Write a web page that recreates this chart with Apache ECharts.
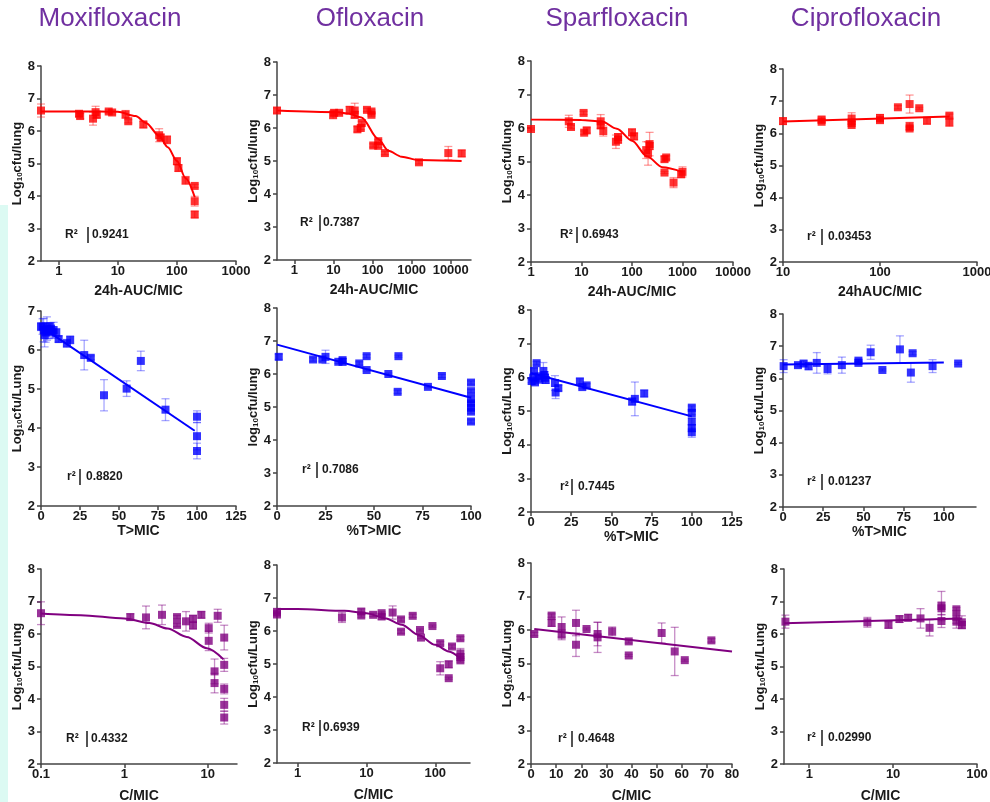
<!DOCTYPE html>
<html>
<head>
<meta charset="utf-8">
<script src="https://cdn.jsdelivr.net/npm/echarts@6/dist/echarts.min.js"></script>
<style>
  html, body { margin: 0; padding: 0; background: #fff; }
  #chart { width: 990px; height: 802px; }
</style>
</head>
<body>
<div id="chart"></div>
<script>
// column titles and axis names
const drugs = ["Moxifloxacin", "Ofloxacin", "Sparfloxacin", "Ciprofloxacin"];
const xNames = [
  "24h-AUC/MIC", "24h-AUC/MIC", "24h-AUC/MIC", "24hAUC/MIC",
  "T>MIC", "%T>MIC", "%T>MIC", "%T>MIC",
  "C/MIC", "C/MIC", "C/MIC", "C/MIC"
];
const yNames = [
  "Log{s|10}cfu/lung", "Log{s|10}cfu/lung", "Log{s|10}cfu/lung", "Log{s|10}cfu/lung",
  "Log{s|10}cfu/Lung", "log{s|10}cfu/lung", "Log{s|10}cfu/Lung", "Log{s|10}cfu/Lung",
  "Log{s|10}cfu/Lung", "Log{s|10}cfu/Lung", "Log{s|10}cfu/Lung", "Log{s|10}cfu/Lung"
];
const statLabels = ["R²", "R²", "R²", "r²", "r²", "r²", "r²", "r²", "R²", "R²", "r²", "r²"];
const statValues = ["0.9241", "0.7387", "0.6943", "0.03453", "0.8820", "0.7086", "0.7445", "0.01237", "0.4332", "0.6939", "0.4648", "0.02990"];

// tick labels
const ticksMoxiAuc = [1, 10, 100, 1000];
const ticksOfloAuc = [1, 10, 100, 1000, 10000];
const ticksSparAuc = [1, 10, 100, 1000, 10000];
const ticksCiproAuc = [10, 100, 1000];
const ticksT125 = [0, 25, 50, 75, 100, 125];
const ticksT100 = [0, 25, 50, 75, 100];
const ticksMoxiC = [0.1, 1, 10];
const ticksOfloC = [1, 10, 100];
const ticksSparC = [0, 10, 20, 30, 40, 50, 60, 70, 80];
const ticksCiproC = [1, 10, 100];

// points: [x, log10 cfu, sem]
const moxiAuc = [[0.5, 6.63, 0.2], [2.2, 6.53, 0.08], [2.3, 6.46, 0.08], [3.8, 6.38, 0.2], [4.2, 6.58, 0.18], [4.4, 6.5, 0.1],
  [7.0, 6.6, 0.05], [8.0, 6.57, 0.05], [13.5, 6.51, 0.12], [15, 6.3, 0.05], [27, 6.2, 0.1], [50, 5.87, 0.2], [53, 5.8, 0.1],
  [68, 5.73, 0.12], [100, 5.07, 0.1], [106, 4.86, 0.1], [140, 4.48, 0.12], [200, 4.31, 0.05], [200, 3.84, 0.15], [200, 3.43, 0.1]];
const moxiAucFit = [[0.5, 6.6], [5, 6.6], [10, 6.59], [20, 6.46], [30, 6.25], [50, 5.85], [70, 5.5], [100, 5.08], [140, 4.55], [200, 3.97]];

const ofloAuc = [[0.36, 6.53, 0.08], [9.8, 6.4, 0.12], [10.4, 6.46, 0.08], [14, 6.46, 0.05], [26, 6.55, 0.1], [35, 6.53, 0.22],
  [35, 6.4, 0.1], [41, 5.96, 0.08], [50, 6.0, 0.05], [53, 6.15, 0.05], [72, 6.55, 0.05], [94, 6.5, 0.05], [94, 6.4, 0.05],
  [104, 5.47, 0.05], [140, 5.6, 0.05], [140, 5.46, 0.05], [207, 5.24, 0.05], [1540, 4.96, 0.05], [8670, 5.24, 0.2], [19100, 5.23, 0.1]];
const ofloAucFit = [[0.36, 6.53], [13, 6.48], [25, 6.43], [52, 6.32], [140, 5.67], [253, 5.31], [555, 5.13], [1480, 5.03], [19000, 5.0]];

const sparAuc = [[1.0, 5.97, 0.03], [5.6, 6.2, 0.18], [6.2, 6.03, 0.05], [11, 6.45, 0.05], [11.3, 5.86, 0.05], [12.7, 5.93, 0.08],
  [24, 6.2, 0.2], [24, 6.08, 0.1], [27, 5.91, 0.15], [48, 5.59, 0.2], [53, 5.73, 0.1], [53, 5.65, 0.1], [100, 5.87, 0.1],
  [110, 5.75, 0.1], [191, 5.34, 0.25], [208, 5.24, 0.35], [223, 5.52, 0.35], [223, 5.46, 0.1], [440, 5.07, 0.08],
  [475, 5.12, 0.05], [440, 4.67, 0.03], [665, 4.37, 0.15], [940, 4.62, 0.1], [1000, 4.69, 0.15]];
const sparAucFit = [[1, 6.25], [10, 6.24], [25, 6.2], [50, 5.98], [100, 5.62], [200, 5.15], [400, 4.83], [1000, 4.69]];

const ciproAuc = [[10, 6.38, 0.1], [25, 6.43, 0.08], [25, 6.36, 0.05], [51, 6.46, 0.18], [51, 6.33, 0.05], [51, 6.26, 0.05],
  [100, 6.48, 0.1], [100, 6.41, 0.08], [153, 6.81, 0.05], [202, 6.91, 0.28], [202, 6.22, 0.12], [202, 6.15, 0.05],
  [254, 6.78, 0.03], [305, 6.39, 0.1], [519, 6.55, 0.05], [519, 6.34, 0.12]];
const ciproAucFit = [[10, 6.37], [519, 6.52]];

const moxiT = [[0, 6.6, 0.1], [1, 6.6, 0.2], [1.7, 6.51, 0.3], [2.3, 6.38, 0.3], [3, 6.45, 0.25], [3.8, 6.55, 0.3], [4.9, 6.49, 0.2],
  [5.5, 6.6, 0.1], [6.4, 6.55, 0.15], [7.3, 6.45, 0.15], [8.1, 6.51, 0.2], [9.8, 6.45, 0.1], [11.3, 6.28, 0.08],
  [16.6, 6.17, 0.1], [18.7, 6.26, 0.1], [27.7, 5.87, 0.38], [31.9, 5.8, 0.05], [40.4, 4.84, 0.4], [54.9, 5.01, 0.2],
  [64, 5.72, 0.25], [79.8, 4.47, 0.28], [100, 4.29, 0.15], [100, 3.79, 0.35], [100, 3.41, 0.2]];
const moxiTFit = [[0, 6.6], [98.5, 3.93]];

const ofloT = [[0.9, 6.52, 0.08], [18.6, 6.44, 0.05], [23.4, 6.44, 0.05], [25, 6.52, 0.2], [31.6, 6.37, 0.05], [33.8, 6.42, 0.05],
  [33.8, 6.37, 0.1], [42.4, 6.32, 0.05], [46.2, 6.54, 0.05], [46.2, 6.12, 0.03], [57.4, 6.0, 0.03], [62.6, 6.54, 0.03],
  [62.2, 5.46, 0.05], [77.8, 5.61, 0.03], [85, 5.94, 0.05], [100, 5.74, 0.05], [100, 5.48, 0.05], [100, 5.24, 0.1],
  [100, 5.11, 0.05], [100, 4.98, 0.1], [100, 4.86, 0.05], [100, 4.56, 0.05]];
const ofloTFit = [[0, 6.89], [100, 5.28]];

const sparT = [[0.4, 5.89, 0.05], [1.4, 5.99, 0.05], [1.9, 6.19, 0.08], [2.5, 5.85, 0.05], [3.5, 6.42, 0.05], [4.6, 6.03, 0.05],
  [5.2, 5.93, 0.05], [7.7, 6.19, 0.25], [8.3, 6.07, 0.1], [8.7, 5.99, 0.1], [9.1, 5.92, 0.1], [14.9, 5.83, 0.22],
  [15.3, 5.55, 0.18], [17, 5.68, 0.08], [30.4, 5.88, 0.08], [31.9, 5.71, 0.05], [34.6, 5.76, 0.05], [62.9, 5.28, 0.1],
  [64.6, 5.36, 0.5], [70.4, 5.52, 0.1], [100, 5.1, 0.05], [100, 4.94, 0.05], [100, 4.69, 0.1], [100, 4.49, 0.1], [100, 4.37, 0.15]];
const sparTFit = [[0, 6.13], [100, 4.84]];

const ciproT = [[0.4, 6.38, 0.2], [9.3, 6.41, 0.05], [12.8, 6.46, 0.08], [15.9, 6.38, 0.12], [21, 6.48, 0.32], [27.7, 6.29, 0.15],
  [36.6, 6.41, 0.25], [46.9, 6.55, 0.05], [46.9, 6.48, 0.05], [54.5, 6.81, 0.22], [61.8, 6.26, 0.03], [72.7, 6.9, 0.42],
  [79.5, 6.18, 0.3], [80.6, 6.78, 0.05], [93, 6.38, 0.2], [108.9, 6.46, 0.03]];
const ciproTFit = [[0, 6.43], [100, 6.49]];

const moxiC = [[0.1, 6.64, 0.35], [1.18, 6.52, 0.1], [1.82, 6.51, 0.35], [2.83, 6.59, 0.3], [4.29, 6.52, 0.05], [4.29, 6.28, 0.05],
  [5.5, 6.39, 0.3], [6.67, 6.47, 0.1], [6.67, 6.26, 0.1], [8.4, 6.59, 0.1], [10.3, 6.18, 0.15], [10.3, 5.79, 0.3],
  [12.1, 4.85, 0.38], [12.1, 4.49, 0.3], [13.2, 6.56, 0.2], [15.8, 5.89, 0.38], [15.8, 5.05, 0.2], [15.8, 4.31, 0.15],
  [15.8, 3.82, 0.2], [15.8, 3.43, 0.2]];
const moxiCFit = [[0.1, 6.63], [0.3, 6.58], [1, 6.48], [2, 6.34], [3.3, 6.17], [5.6, 5.91], [9.8, 5.56], [15.5, 5.22]];

const ofloC = [[0.5, 6.58, 0.05], [0.5, 6.5, 0.05], [4.4, 6.41, 0.15], [8.4, 6.59, 0.08], [8.4, 6.47, 0.05], [12.5, 6.49, 0.05],
  [16.6, 6.54, 0.05], [16.6, 6.44, 0.08], [24, 6.56, 0.2], [31.8, 6.35, 0.05], [31.8, 5.98, 0.05], [47, 6.46, 0.05],
  [60, 6.03, 0.03], [62, 5.8, 0.03], [91, 6.15, 0.03], [118, 5.63, 0.05], [118, 4.87, 0.2], [157, 4.99, 0.1],
  [157, 4.57, 0.03], [175, 5.53, 0.05], [232, 5.78, 0.05], [232, 5.32, 0.15], [232, 5.21, 0.1], [232, 5.11, 0.05]];
const ofloCFit = [[0.5, 6.67], [1, 6.67], [4.8, 6.61], [10, 6.54], [18.5, 6.39], [32.5, 6.19], [57, 5.88], [100, 5.58], [157, 5.38], [232, 5.17]];

const sparC = [[1.3, 5.88, 0.05], [8.2, 6.43, 0.05], [8.2, 6.21, 0.1], [12.2, 6.09, 0.3], [12.2, 5.86, 0.15], [17.9, 6.21, 0.38],
  [17.9, 5.56, 0.35], [22.1, 6.03, 0.03], [26.5, 5.88, 0.35], [26.5, 5.78, 0.45], [32.3, 5.96, 0.13], [38.9, 5.66, 0.05],
  [38.9, 5.24, 0.03], [52, 5.91, 0.3], [57.2, 5.36, 0.72], [61.2, 5.1, 0.03], [71.8, 5.69, 0.05]];
const sparCFit = [[1.3, 6.03], [80, 5.36]];

const ciproC = [[0.52, 6.38, 0.2], [4.93, 6.36, 0.15], [8.8, 6.28, 0.1], [11.9, 6.46, 0.1], [15.1, 6.5, 0.1], [21.2, 6.48, 0.3],
  [27.2, 6.19, 0.25], [37.7, 6.86, 0.45], [37.7, 6.79, 0.2], [37.7, 6.4, 0.2], [56.8, 6.76, 0.05], [56.8, 6.53, 0.2],
  [56.8, 6.38, 0.2], [66, 6.36, 0.2], [66, 6.28, 0.1]];
const ciproCFit = [[0.5, 6.33], [66, 6.48]];

const FONT = '"Liberation Sans", Arial, sans-serif';
const AXIS = "#444";
const TEXT = "#1a1a1a";
const rows = [
  { color: "#ff0000", err: "rgba(255,0,0,0.4)", xGap: 23 },
  { color: "#0000ff", err: "rgba(0,0,255,0.35)", xGap: 18 },
  { color: "#800080", err: "rgba(128,0,128,0.45)", xGap: 25 }
];

// layout: box = [left, top, width, height], stat = [x, y, barX, valueX]
const panels = [
  { pts: moxiAuc, fit: moxiAucFit, box: [41, 66, 195, 195], x: ["log", 0.5, 1000, ticksMoxiAuc], yMax: 8, stat: [65, 235, 88, 92] },
  { pts: ofloAuc, fit: ofloAucFit, box: [277, 62, 194, 198], x: ["log", 0.36, 33000, ticksOfloAuc], yMax: 8, stat: [300, 223, 320, 323] },
  { pts: sparAuc, fit: sparAucFit, box: [531, 61, 202, 201], x: ["log", 1, 10000, ticksSparAuc], yMax: 8, stat: [560, 235, 577, 582] },
  { pts: ciproAuc, fit: ciproAucFit, box: [783, 69, 194, 193], x: ["log", 10, 1000, ticksCiproAuc], yMax: 8, stat: [807, 237, 822, 828] },
  { pts: moxiT, fit: moxiTFit, box: [41, 311, 195, 195], x: ["value", 0, 125, ticksT125], yMax: 7, stat: [67, 477, 80, 86] },
  { pts: ofloT, fit: ofloTFit, box: [277, 308, 194, 198], x: ["value", 0, 100, ticksT100], yMax: 8, stat: [302, 470, 317, 322] },
  { pts: sparT, fit: sparTFit, box: [531, 310, 201, 202], x: ["value", 0, 125, ticksT125], yMax: 8, stat: [560, 487, 572, 578] },
  { pts: ciproT, fit: ciproTFit, box: [783, 314, 193, 193], x: ["value", 0, 120, ticksT100], yMax: 8, stat: [807, 482, 822, 828] },
  { pts: moxiC, fit: moxiCFit, box: [41, 569, 196, 195], x: ["log", 0.1, 22.5, ticksMoxiC], yMax: 8, stat: [66, 739, 87, 91] },
  { pts: ofloC, fit: ofloCFit, box: [277, 565, 193, 198], x: ["log", 0.5, 320, ticksOfloC], yMax: 8, stat: [302, 728, 320, 323] },
  { pts: sparC, fit: sparCFit, box: [531, 563, 201, 201], x: ["value", 0, 80, ticksSparC], yMax: 8, stat: [558, 739, 572, 578] },
  { pts: ciproC, fit: ciproCFit, box: [784, 569, 193, 195], x: ["log", 0.5, 100, ticksCiproC], yMax: 8, stat: [807, 738, 822, 828] }
];

const grid = [], xAxis = [], yAxis = [], series = [], graphic = [];

graphic.push({ type: "rect", shape: { x: 0, y: 205, width: 8, height: 597 }, style: { fill: "#dcfaf3" }, silent: true });
drugs.forEach((d, c) => {
  const cx = [110, 370, 617, 866][c];
  graphic.push({
    type: "text", x: cx, y: 19, silent: true,
    style: { text: d, font: "26px " + FONT, fill: "#7030a0", align: "center", verticalAlign: "middle", textAlign: "center", textVerticalAlign: "middle" }
  });
});

panels.forEach((p, i) => {
  const row = rows[Math.floor(i / 4)];
  const [type, xMin, xMax, ticks] = p.x;
  grid.push({ left: p.box[0], top: p.box[1], width: p.box[2], height: p.box[3], containLabel: false, outerBoundsMode: "none" });
  xAxis.push({
    gridIndex: i, type: type, logBase: 10, min: xMin, max: xMax,
    name: xNames[i], nameLocation: "middle", nameGap: row.xGap,
    nameTextStyle: { fontFamily: FONT, fontSize: 14, fontWeight: "bold", color: TEXT },
    axisLine: { onZero: false, lineStyle: { color: AXIS, width: 1.5 } },
    axisTick: { show: true, length: 4, customValues: ticks, lineStyle: { color: AXIS, width: 1.5 } },
    axisLabel: { customValues: ticks, margin: 4, formatter: v => String(v), fontFamily: FONT, fontSize: 13, fontWeight: "bold", color: TEXT },
    splitLine: { show: false }, minorTick: { show: false }
  });
  yAxis.push({
    gridIndex: i, type: "value", min: 2, max: p.yMax, interval: 1,
    name: yNames[i], nameLocation: "middle", nameGap: 17,
    nameTextStyle: {
      fontFamily: FONT, fontSize: 13, fontWeight: "bold", color: TEXT,
      rich: { s: { fontFamily: FONT, fontSize: 8, fontWeight: "bold", color: TEXT, verticalAlign: "bottom", padding: [5, 0, 0, 0] } }
    },
    axisLine: { show: true, lineStyle: { color: AXIS, width: 1.5 } },
    axisTick: { show: true, length: 4, lineStyle: { color: AXIS, width: 1.5 } },
    axisLabel: { margin: 6, fontFamily: FONT, fontSize: 13, fontWeight: "bold", color: TEXT },
    splitLine: { show: false }
  });

  series.push({
    type: "custom", xAxisIndex: i, yAxisIndex: i, z: 2, silent: true,
    data: p.pts.map(q => [q[0], q[1] - q[2], q[1] + q[2]]),
    encode: { x: 0, y: [1, 2] },
    renderItem: (params, api) => {
      const x = api.value(0);
      const lo = api.coord([x, api.value(1)]);
      const hi = api.coord([x, api.value(2)]);
      const w = 4;
      const st = { stroke: row.err, lineWidth: 1.3 };
      return {
        type: "group", children: [
          { type: "line", shape: { x1: lo[0], y1: lo[1], x2: hi[0], y2: hi[1] }, style: st },
          { type: "line", shape: { x1: lo[0] - w, y1: lo[1], x2: lo[0] + w, y2: lo[1] }, style: st },
          { type: "line", shape: { x1: hi[0] - w, y1: hi[1], x2: hi[0] + w, y2: hi[1] }, style: st }
        ]
      };
    }
  });
  series.push({
    type: "line", xAxisIndex: i, yAxisIndex: i, z: 3, silent: true,
    data: p.fit, showSymbol: false, smooth: p.fit.length > 2 ? 0.3 : false, smoothMonotone: "x",
    lineStyle: { color: row.color, width: 2 }
  });
  series.push({
    type: "scatter", xAxisIndex: i, yAxisIndex: i, z: 4, silent: true,
    data: p.pts.map(q => [q[0], q[1]]), symbol: "rect", symbolSize: 8,
    itemStyle: { color: row.color }
  });

  const [sx, sy, bx, vx] = p.stat;
  const tstyle = { font: "bold 12px " + FONT, fill: TEXT, verticalAlign: "middle", textVerticalAlign: "middle" };
  graphic.push({ type: "text", x: sx, y: sy, silent: true, style: Object.assign({ text: statLabels[i] }, tstyle) });
  graphic.push({ type: "line", silent: true, shape: { x1: bx, y1: sy - 8, x2: bx, y2: sy + 8 }, style: { stroke: TEXT, lineWidth: 1.5 } });
  graphic.push({ type: "text", x: vx, y: sy, silent: true, style: Object.assign({ text: statValues[i] }, tstyle) });
});

const chart = echarts.init(document.getElementById("chart"));
chart.setOption({
  backgroundColor: "#fff",
  animation: false,
  grid: grid,
  xAxis: xAxis,
  yAxis: yAxis,
  series: series,
  graphic: graphic
});
window.addEventListener("resize", () => chart.resize());
</script>
</body>
</html>
